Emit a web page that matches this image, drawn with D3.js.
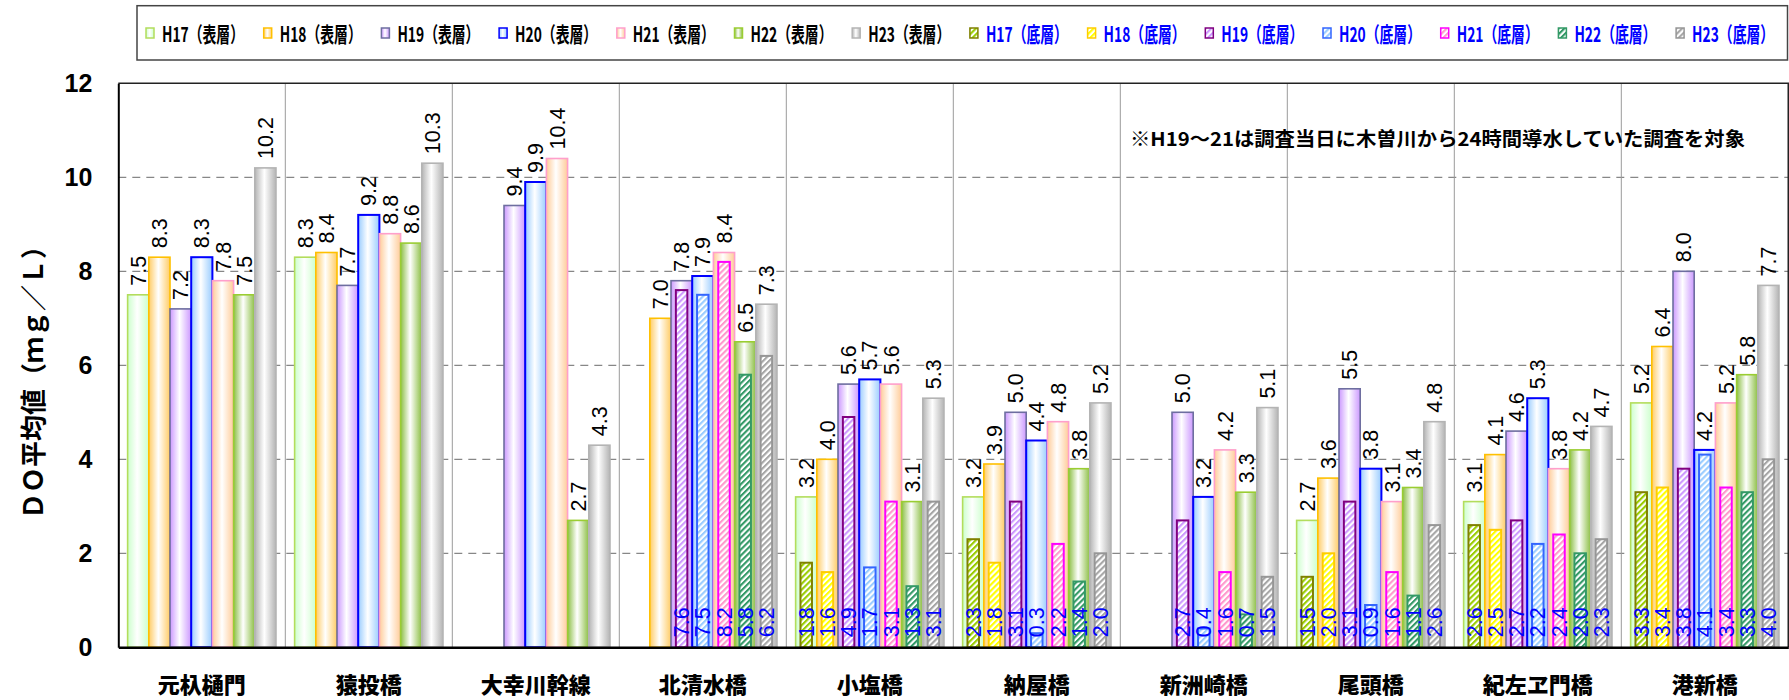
<!DOCTYPE html>
<html>
<head>
<meta charset="utf-8">
<script src="https://cdn.jsdelivr.net/npm/d3@7"></script>
<style>
  html, body { margin: 0; padding: 0; background: #fff; }
  svg { display: block; }
</style>
</head>
<body>
<svg id="chart" width="1789" height="700"></svg>
<script>
// 地点
const categories = ["元杁樋門", "猿投橋", "大幸川幹線", "北清水橋", "小塩橋", "納屋橋", "新洲崎橋", "尾頭橋", "紀左ヱ門橋", "港新橋"];
const years = ["H17", "H18", "H19", "H20", "H21", "H22", "H23"];
const yTicks = [0, 2, 4, 6, 8, 10, 12];

// 表層 DO平均値 (mg/L)
const surfaceH17 = [7.5, 8.3, null, null, 3.2, 3.2, null, 2.7, 3.1, 5.2];
const surfaceH18 = [8.3, 8.4, null, 7.0, 4.0, 3.9, null, 3.6, 4.1, 6.4];
const surfaceH19 = [7.2, 7.7, 9.4, 7.8, 5.6, 5.0, 5.0, 5.5, 4.6, 8.0];
const surfaceH20 = [8.3, 9.2, 9.9, 7.9, 5.7, 4.4, 3.2, 3.8, 5.3, 4.2];
const surfaceH21 = [7.8, 8.8, 10.4, 8.4, 5.6, 4.8, 4.2, 3.1, 3.8, 5.2];
const surfaceH22 = [7.5, 8.6, 2.7, 6.5, 3.1, 3.8, 3.3, 3.4, 4.2, 5.8];
const surfaceH23 = [10.2, 10.3, 4.3, 7.3, 5.3, 5.2, 5.1, 4.8, 4.7, 7.7];

// 底層 DO平均値 (mg/L)
const bottomH17 = [null, null, null, null, 1.8, 2.3, null, 1.5, 2.6, 3.3];
const bottomH18 = [null, null, null, null, 1.6, 1.8, null, 2.0, 2.5, 3.4];
const bottomH19 = [null, null, null, 7.6, 4.9, 3.1, 2.7, 3.1, 2.7, 3.8];
const bottomH20 = [null, null, null, 7.5, 1.7, 0.3, 0.4, 0.9, 2.2, 4.1];
const bottomH21 = [null, null, null, 8.2, 3.1, 2.2, 1.6, 1.6, 2.4, 3.4];
const bottomH22 = [null, null, null, 5.8, 1.3, 1.4, 0.7, 1.1, 2.0, 3.3];
const bottomH23 = [null, null, null, 6.2, 3.1, 2.0, 1.5, 2.6, 2.3, 4.0];

const surfaceSeries = [surfaceH17, surfaceH18, surfaceH19, surfaceH20, surfaceH21, surfaceH22, surfaceH23];
const bottomSeries = [bottomH17, bottomH18, bottomH19, bottomH20, bottomH21, bottomH22, bottomH23];

// 表層: 枠線色とグラデーション色
const surfaceStroke = ["#B3DD5C", "#FFC000", "#6E6EA0", "#0000FF", "#FF9FCB", "#9ACD32", "#B4B4B4"];
const surfaceTint   = ["#CCFFCC", "#FFCC66", "#CC99FF", "#99CCFF", "#FFCC99", "#8CBF45", "#B4B4B4"];
// 底層: 枠線色と斜線色
const bottomStroke = ["#808000", "#FFCC00", "#800080", "#3366FF", "#FF00FF", "#339966", "#969696"];
const bottomHatch  = ["#99CC00", "#FFFF00", "#CC99FF", "#99CCFF", "#FF99CC", "#339966", "#A6A6A6"];

const svg = d3.select("#chart");
const plotLeft = 118.3, plotRight = 1788.3, plotTop = 83.3, plotBase = 647.3;

const x = d3.scaleBand().domain(categories).range([plotLeft, plotRight]);
const xs = d3.scaleBand().domain(years).range([0, x.bandwidth()]).paddingOuter(0.44);
const y = d3.scaleLinear().domain([0, 12]).range([plotBase, plotTop]);
const bw = xs.bandwidth();
const bottomW = 11.5;

const jpFont = "'Noto Sans CJK JP', 'Noto Sans', sans-serif";
const numFont = "'Liberation Sans', Arial, sans-serif";

// グラデーション・斜線パターン
const defs = svg.append("defs");
years.forEach((yr, k) => {
  const g = defs.append("linearGradient").attr("id", "grad" + k)
    .attr("x1", 0).attr("x2", 1).attr("y1", 0).attr("y2", 0);
  g.append("stop").attr("offset", "0%").attr("stop-color", surfaceTint[k]);
  g.append("stop").attr("offset", "45%").attr("stop-color", "#ffffff");
  g.append("stop").attr("offset", "100%").attr("stop-color", surfaceTint[k]);

  const p = defs.append("pattern").attr("id", "hatch" + k)
    .attr("patternUnits", "userSpaceOnUse").attr("width", 4.2).attr("height", 4.2)
    .attr("patternTransform", "rotate(45)");
  p.append("rect").attr("width", 4.2).attr("height", 4.2).attr("fill", "#ffffff");
  p.append("rect").attr("width", 2.1).attr("height", 4.2).attr("fill", bottomHatch[k]);
});

// 目盛線（破線）
svg.append("g").selectAll("line").data(yTicks.filter(t => t > 0 && t < 12)).join("line")
  .attr("x1", plotLeft).attr("x2", plotRight)
  .attr("y1", d => y(d)).attr("y2", d => y(d))
  .attr("stroke", "#6a6a6a").attr("stroke-width", 1).attr("stroke-dasharray", "8,6");

// 地点の区切り線
svg.append("g").selectAll("line").data(categories.slice(1)).join("line")
  .attr("x1", d => x(d)).attr("x2", d => x(d))
  .attr("y1", plotTop).attr("y2", plotBase)
  .attr("stroke", "#9a9a9a").attr("stroke-width", 1);

// 表層の棒
surfaceSeries.forEach((vals, k) => {
  const pts = vals.map((v, i) => ({ v, c: categories[i] })).filter(d => d.v != null);
  svg.append("g").selectAll("rect").data(pts).join("rect")
    .attr("x", d => x(d.c) + xs(years[k]))
    .attr("width", bw)
    .attr("y", d => y(d.v))
    .attr("height", d => y(0) - y(d.v))
    .attr("fill", `url(#grad${k})`)
    .attr("stroke", surfaceStroke[k])
    .attr("stroke-width", k === 3 ? 2 : 1.6);
});

// 底層の棒（斜線）
bottomSeries.forEach((vals, k) => {
  const pts = vals.map((v, i) => ({ v, c: categories[i] })).filter(d => d.v != null);
  svg.append("g").selectAll("rect").data(pts).join("rect")
    .attr("x", d => x(d.c) + xs(years[k]) + (bw - bottomW) / 2)
    .attr("width", bottomW)
    .attr("y", d => y(d.v))
    .attr("height", d => y(0) - y(d.v))
    .attr("fill", `url(#hatch${k})`)
    .attr("stroke", bottomStroke[k])
    .attr("stroke-width", 2);
});

// 表層の値ラベル
surfaceSeries.forEach((vals, k) => {
  const pts = vals.map((v, i) => ({ v, c: categories[i] })).filter(d => d.v != null);
  svg.append("g").selectAll("text").data(pts).join("text")
    .attr("transform", d => `translate(${x(d.c) + xs(years[k]) + bw / 2},${y(d.v) - 9}) rotate(-90)`)
    .attr("dy", "0.35em")
    .attr("text-anchor", "start")
    .attr("font-family", numFont).attr("font-size", 21.5).attr("fill", "#000")
    .text(d => d.v.toFixed(1));
});

// 底層の値ラベル
bottomSeries.forEach((vals, k) => {
  const pts = vals.map((v, i) => ({ v, c: categories[i] })).filter(d => d.v != null);
  svg.append("g").selectAll("text").data(pts).join("text")
    .attr("transform", d => `translate(${x(d.c) + xs(years[k]) + bw / 2},${y(0) - 10}) rotate(-90)`)
    .attr("dy", "0.35em")
    .attr("text-anchor", "start")
    .attr("font-family", numFont).attr("font-size", 21.5).attr("fill", "#0000FF")
    .text(d => d.v.toFixed(1));
});

// 枠線（上・右）
svg.append("path")
  .attr("d", `M${plotLeft},${plotTop}H${plotRight}V${plotBase}`)
  .attr("fill", "none").attr("stroke", "#222").attr("stroke-width", 1.6);

// Y軸
const yAxis = svg.append("g").attr("transform", `translate(${plotLeft},0)`)
  .call(d3.axisLeft(y).tickValues(yTicks).tickSize(0).tickSizeOuter(0).tickPadding(26));
yAxis.select(".domain").attr("stroke", "#000").attr("stroke-width", 2);
yAxis.selectAll("text")
  .attr("font-family", numFont).attr("font-size", 25).attr("font-weight", "bold").attr("fill", "#000");

// X軸
const xAxis = svg.append("g").attr("transform", `translate(0,${plotBase})`)
  .call(d3.axisBottom(x).tickSize(0).tickSizeOuter(0));
xAxis.select(".domain").attr("stroke", "#000").attr("stroke-width", 2.5);
xAxis.selectAll("text")
  .attr("y", 35.5).attr("dy", null).attr("dominant-baseline", "central")
  .attr("font-family", jpFont).attr("font-size", 22).attr("font-weight", 900).attr("fill", "#000");

// Y軸タイトル（全角文字・下端から上へ）
const titleLen = 286;
svg.append("text")
  .attr("transform", `translate(31,${376 + titleLen / 2}) rotate(-90)`)
  .attr("text-anchor", "start").attr("dominant-baseline", "central")
  .attr("font-family", jpFont).attr("font-size", 26).attr("font-weight", "bold")
  .attr("textLength", titleLen).attr("lengthAdjust", "spacingAndGlyphs")
  .text("ＤＯ平均値（ｍｇ／Ｌ）");

// 注記
svg.append("text")
  .attr("x", 1130).attr("y", 137).attr("dominant-baseline", "central")
  .attr("font-family", jpFont).attr("font-size", 19).attr("font-weight", "bold")
  .attr("textLength", 615).attr("lengthAdjust", "spacingAndGlyphs")
  .text("※H19～21は調査当日に木曽川から24時間導水していた調査を対象");

// 凡例
const legend = svg.append("g");
legend.append("rect")
  .attr("x", 137).attr("y", 5.7).attr("width", 1650.5).attr("height", 54.3)
  .attr("fill", "#fff").attr("stroke", "#444").attr("stroke-width", 1.5);

const legendItems = [
  ...years.map((yr, k) => ({ label: yr + "（表層）", k, layer: "surface" })),
  ...years.map((yr, k) => ({ label: yr + "（底層）", k, layer: "bottom" }))
];
const li = legend.selectAll("g.item").data(legendItems).join("g")
  .attr("class", "item")
  .attr("transform", (d, i) => `translate(${146 + 117.7 * i},33)`);
li.append("rect")
  .attr("x", 0).attr("y", -5).attr("width", 8).attr("height", 10)
  .attr("fill", d => d.layer === "surface" ? `url(#grad${d.k})` : `url(#hatch${d.k})`)
  .attr("stroke", d => d.layer === "surface" ? surfaceStroke[d.k] : bottomStroke[d.k])
  .attr("stroke-width", 1.5);
li.append("text")
  .attr("x", 16).attr("y", 0).attr("dominant-baseline", "central")
  .attr("font-family", jpFont).attr("font-size", 21).attr("font-weight", "bold")
  .attr("fill", d => d.layer === "surface" ? "#000" : "#0000FF")
  .attr("textLength", 82).attr("lengthAdjust", "spacingAndGlyphs")
  .text(d => d.label);
</script>
</body>
</html>
